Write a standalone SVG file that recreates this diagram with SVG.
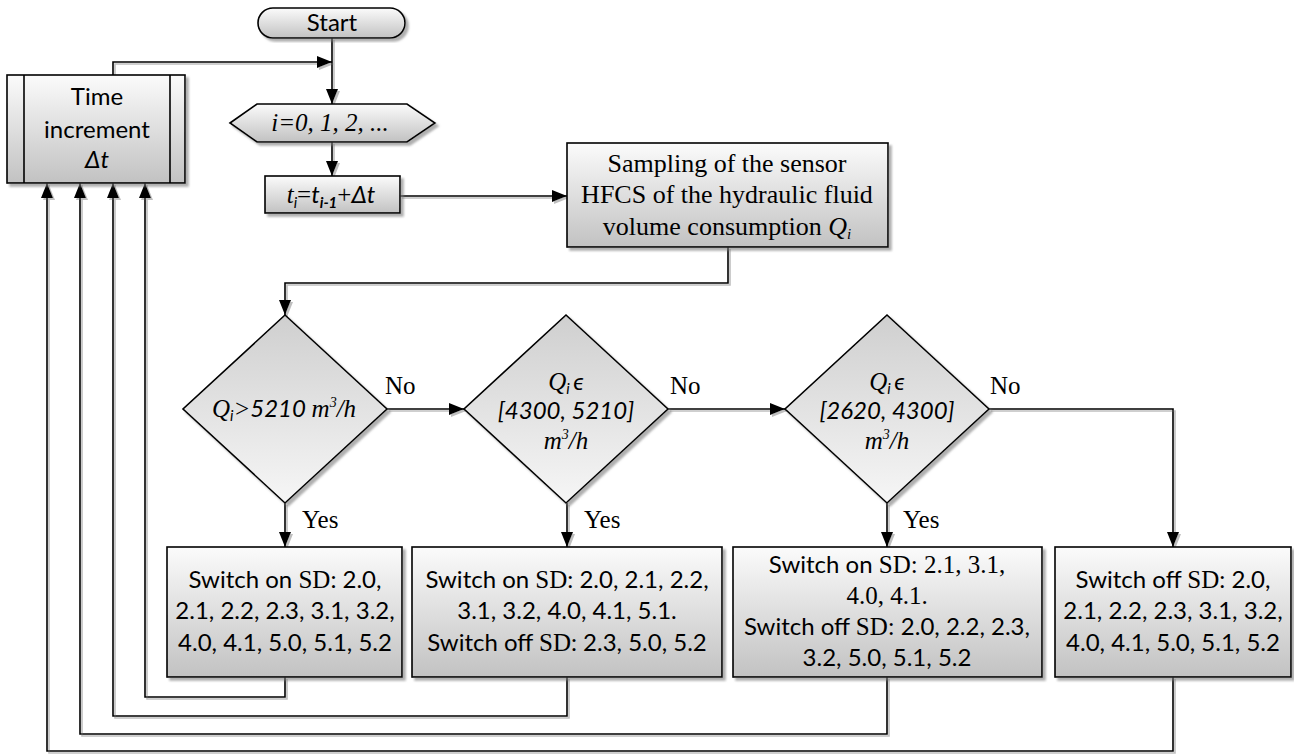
<svg xmlns="http://www.w3.org/2000/svg" width="1294" height="754" viewBox="0 0 1294 754">
<defs>
<linearGradient id="gBox" x1="0" y1="0" x2="0" y2="1"><stop offset="0" stop-color="#fbfbfb"/><stop offset="1" stop-color="#c2c2c2"/></linearGradient>
<linearGradient id="gDia" x1="0" y1="0" x2="0" y2="1"><stop offset="0" stop-color="#cfcfcf"/><stop offset="1" stop-color="#f6f6f6"/></linearGradient>
<filter id="sh" x="-5%" y="-5%" width="115%" height="120%"><feDropShadow dx="3" dy="3" stdDeviation="1" flood-color="#7a7a7a" flood-opacity="0.6"/></filter>
<filter id="lsh" filterUnits="userSpaceOnUse" x="0" y="0" width="1294" height="754"><feDropShadow dx="2" dy="2" stdDeviation="0.6" flood-color="#8a8a8a" flood-opacity="0.55"/></filter>
<marker id="ah" markerWidth="15" markerHeight="12" refX="15" refY="6" orient="auto" markerUnits="userSpaceOnUse"><path d="M0,0 L15,6 L0,12 z" fill="#000"/></marker>
<style>
.box{fill:url(#gBox);stroke:#000;stroke-width:1.6;filter:url(#sh)}
.dia{fill:url(#gDia);stroke:#000;stroke-width:1.6;filter:url(#sh)}
.ln{fill:none;stroke:#000;stroke-width:1.6}
.arr{marker-end:url(#ah)}
.sans{font-family:Lato,"Liberation Sans",sans-serif;font-size:24px;fill:#000}
.ser{font-family:"Liberation Serif","Times New Roman",serif;font-size:25px;fill:#000}
.it{font-style:italic}
.m{text-anchor:middle}
.sub{font-size:15px}
.sup{font-size:14px}
</style>
</defs>

<g id="connectors" filter="url(#lsh)">
<polyline class="ln arr" points="332,38 332,104"/>
<polyline class="ln arr" points="113,75 113,62 332,62"/>
<polyline class="ln arr" points="332,142 332,176"/>
<polyline class="ln arr" points="400,196 567,196"/>
<polyline class="ln arr" points="728,247 728,283 285,283 285,315"/>
<polyline class="ln arr" points="387,409 464,409"/>
<polyline class="ln arr" points="668,409 785,409"/>
<polyline class="ln arr" points="989,409 1173,409 1173,547"/>
<polyline class="ln arr" points="285,503 285,547"/>
<polyline class="ln arr" points="567,503 567,547"/>
<polyline class="ln arr" points="887,503 887,547"/>
<polyline class="ln arr" points="285,677 285,697 145,697 145,183"/>
<polyline class="ln arr" points="567,677 567,716 113,716 113,183"/>
<polyline class="ln arr" points="887,677 887,734 80,734 80,183"/>
<polyline class="ln arr" points="1173,677 1173,751 47,751 47,183"/>
</g>

<g id="start">
<rect class="box" x="258" y="8" width="147" height="30" rx="15" ry="15"/>
<text class="sans m" x="332" y="31">Start</text>
</g>

<g id="time-increment">
<rect class="box" x="7" y="75" width="178" height="108"/>
<line class="ln" x1="24" y1="75" x2="24" y2="183"/>
<line class="ln" x1="170" y1="75" x2="170" y2="183"/>
<text class="sans m" x="97" y="105">Time</text>
<text class="sans m" x="97" y="138">increment</text>
<text class="sans m it" x="97" y="168">Δt</text>
</g>

<g id="loop">
<polygon class="box" points="230,123 257,104 407,104 435,123 407,142 257,142"/>
<text class="ser it m" x="330" y="131">i=0, 1, 2, ...</text>
</g>

<g id="time-step">
<rect class="box" x="265" y="176" width="135" height="37"/>
<text class="m" x="331" y="203"><tspan class="ser it">t</tspan><tspan class="sans it sub" dy="5">i</tspan><tspan class="ser" dy="-5">=</tspan><tspan class="sans it">t</tspan><tspan class="sans it sub" font-weight="bold" dy="5">i-1</tspan><tspan class="ser" dy="-5">+</tspan><tspan class="sans it">Δt</tspan></text>
</g>

<g id="sampling">
<rect class="box" x="567" y="143" width="321" height="104"/>
<text class="ser m" x="727" y="172" style="font-size:26px">Sampling of the sensor</text>
<text class="ser m" x="727" y="203" style="font-size:26px">HFCS of the hydraulic fluid</text>
<text class="ser m" x="727" y="235" style="font-size:26px">volume consumption <tspan class="it">Q</tspan><tspan class="it sub" dy="4">i</tspan></text>
</g>

<g id="decision1">
<polygon class="dia" points="285,315 387,409 285,503 183,409"/>
<text class="m" x="284" y="417"><tspan class="ser it">Q</tspan><tspan class="sans it sub" dy="4">i</tspan><tspan class="ser it" dy="-4">&gt;</tspan><tspan class="sans it">5210 </tspan><tspan class="ser it">m</tspan><tspan class="ser it sup" dy="-10">3</tspan><tspan class="ser it" dy="10">/h</tspan></text>
</g>

<g id="decision2">
<polygon class="dia" points="566,315 668,409 566,503 464,409"/>
<text class="m" x="566" y="390"><tspan class="ser it">Q</tspan><tspan class="sans it sub" dy="4">i </tspan><tspan class="sans it" dy="-4">ϵ</tspan></text>
<text class="sans it m" x="566" y="419">[4300, 5210]</text>
<text class="m" x="566" y="449"><tspan class="ser it">m</tspan><tspan class="ser it sup" dy="-10">3</tspan><tspan class="ser it" dy="10">/h</tspan></text>
</g>

<g id="decision3">
<polygon class="dia" points="887,315 989,409 887,503 785,409"/>
<text class="m" x="887" y="390"><tspan class="ser it">Q</tspan><tspan class="sans it sub" dy="4">i </tspan><tspan class="sans it" dy="-4">ϵ</tspan></text>
<text class="sans it m" x="887" y="419">[2620, 4300]</text>
<text class="m" x="887" y="449"><tspan class="ser it">m</tspan><tspan class="ser it sup" dy="-10">3</tspan><tspan class="ser it" dy="10">/h</tspan></text>
</g>

<g id="labels">
<text class="ser" x="385" y="394">No</text>
<text class="ser" x="670" y="394">No</text>
<text class="ser" x="990" y="394">No</text>
<text class="ser" x="302" y="528">Yes</text>
<text class="ser" x="584" y="528">Yes</text>
<text class="ser" x="903" y="528">Yes</text>
</g>

<g id="action1">
<rect class="box" x="167" y="547" width="235" height="130"/>
<text class="sans m" x="285" y="588">Switch on <tspan class="ser">SD</tspan>: 2.0,</text>
<text class="sans m" x="285" y="619">2.1, 2.2, 2.3, 3.1, 3.2,</text>
<text class="sans m" x="285" y="651">4.0, 4.1, 5.0, 5.1, 5.2</text>
</g>

<g id="action2">
<rect class="box" x="412" y="547" width="310" height="130"/>
<text class="sans m" x="567" y="588">Switch on <tspan class="ser">SD</tspan>: 2.0, 2.1, 2.2,</text>
<text class="sans m" x="567" y="619">3.1, 3.2, 4.0, 4.1, 5.1.</text>
<text class="sans m" x="567" y="651">Switch off <tspan class="ser">SD</tspan>: 2.3, 5.0, 5.2</text>
</g>

<g id="action3">
<rect class="box" x="733" y="547" width="309" height="130"/>
<text class="sans m" x="887" y="573">Switch on <tspan class="ser">SD: 2.1, 3.1,</tspan></text>
<text class="ser m" x="887" y="604">4.0, 4.1.</text>
<text class="sans m" x="887" y="635">Switch off <tspan class="ser">SD:</tspan> 2.0, 2.2, 2.3,</text>
<text class="sans m" x="887" y="666">3.2, 5.0, 5.1, 5.2</text>
</g>

<g id="action4">
<rect class="box" x="1055" y="547" width="236" height="130"/>
<text class="sans m" x="1173" y="588">Switch off <tspan class="ser">SD</tspan>: 2.0,</text>
<text class="sans m" x="1173" y="619">2.1, 2.2, 2.3, 3.1, 3.2,</text>
<text class="sans m" x="1173" y="651">4.0, 4.1, 5.0, 5.1, 5.2</text>
</g>
</svg>
